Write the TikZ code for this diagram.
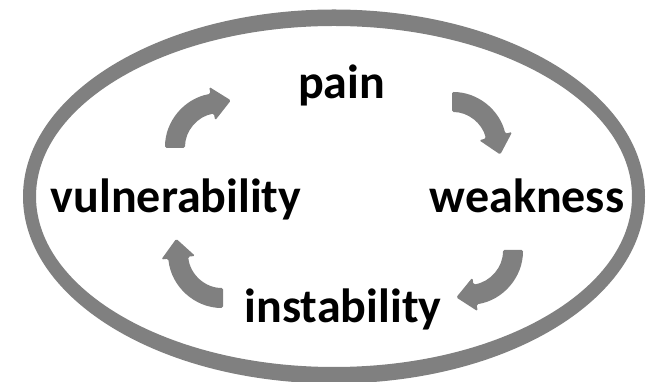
\documentclass[tikz,border=0pt]{standalone}
\usepackage{fontspec}
\setmainfont{Carlito}
\usetikzlibrary{calc}
\definecolor{ringgray}{RGB}{128,128,128}
\newcommand{\cyclearrow}[3]{%
  \fill[ringgray, rounded corners=1.5pt]
    ($(#1)+(#2:55pt)$) arc[start angle=#2, end angle=#3, radius=55pt]
    -- ($(#1)+(#3:62pt)$)
    -- ($(#1)+(#3:45pt)+({#3-90}:19pt)$)
    -- ($(#1)+(#3:28pt)$)
    -- ($(#1)+(#3:35pt)$) arc[start angle=#3, end angle=#2, radius=35pt]
    -- cycle;}
\begin{document}
\begin{tikzpicture}[x=1pt,y=1pt,
  word/.style={font=\fontsize{48}{58}\selectfont\bfseries, inner sep=0pt, anchor=base, text=black}]
\useasboundingbox (0,0) rectangle (646,382);
\fill[white] (0,0) rectangle (646,382);
% ring
\coordinate (ctr) at (334,185.5);
\fill[ringgray, even odd rule]
  (ctr) ellipse [x radius=311pt, y radius=187pt]
  (ctr) ellipse [x radius=298pt, y radius=170.5pt];
% words
\node[word] (pain) at (341.5,283) {pain};
\node[word] (weak) at (527,169) {weakness};
\node[word] (vuln) at (176,169) {vulnerability};
\node[word] (inst) at (343,59) {instability};
% arrow centres
\coordinate (tl) at (220,234);
\coordinate (tr) at (452,235);
\coordinate (bl) at (223,129);
\coordinate (br) at (468,132);
\cyclearrow{tl}{180}{100}
\cyclearrow{tr}{90}{14}
\cyclearrow{bl}{270}{186}
\cyclearrow{br}{0}{-81}
\end{tikzpicture}
\end{document}
